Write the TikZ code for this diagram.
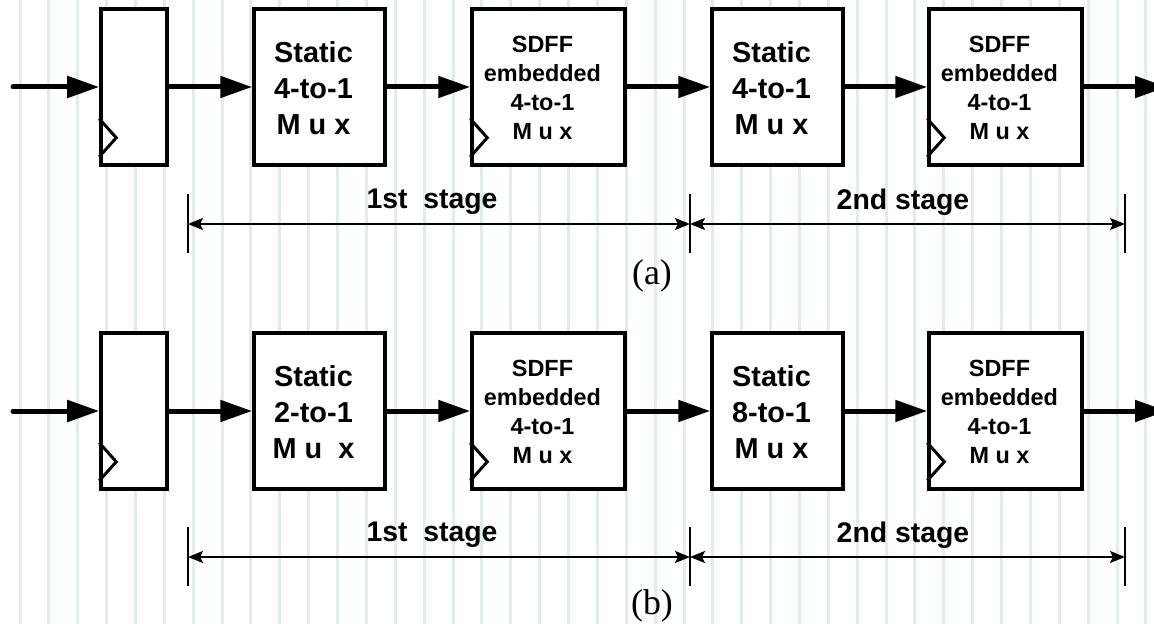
\documentclass[tikz,border=0pt]{standalone}
\usepackage{fontspec}
\setmainfont{Liberation Serif}
\setsansfont{Liberation Sans}
\usetikzlibrary{arrows.meta}
\definecolor{gridc}{RGB}{224,237,233}

\tikzset{
  gridline/.style={gridc, line width=3bp},
  block/.style={draw, fill=white, line width=3.5bp, inner sep=0pt,
                minimum height=156bp},
  ffbox/.style={block, minimum width=66bp},
  muxbox/.style={block, minimum width=131bp},
  sdffbox/.style={block, minimum width=153bp},
  clk/.style={line width=3bp, line join=miter},
  bus/.style={line width=5bp, line cap=round,
              -{Triangle[length=32bp,width=21bp]}},
  muxtext/.style={font=\sffamily\bfseries\fontsize{29}{36}\selectfont,
                  align=center, inner sep=0pt},
  sdfftext/.style={font=\sffamily\bfseries\fontsize{23.5}{29}\selectfont,
                   align=center, inner sep=0pt},
  dim/.style={line width=2bp,
              {Stealth[length=15bp,width=12bp,inset=3bp]}-{Stealth[length=15bp,width=12bp,inset=3bp]}},
  tick/.style={line width=2bp},
  stagetext/.style={font=\sffamily\bfseries\fontsize{28.5}{32}\selectfont,
                    inner sep=0pt},
  captext/.style={font=\fontsize{36}{40}\selectfont, inner sep=0pt}
}

\begin{document}
\begin{tikzpicture}[x=1bp, y=-1bp]
  \clip (0,0) rectangle (1154,624);
  \fill[white] (0,0) rectangle (1154,624);

  % ruled background
  \foreach \k in {0,...,39}
    \draw[gridline] ({20+28.87*\k},0) -- ++(0,624);

  % ---------------- (a) ----------------
  \node[ffbox]   (ffa)  at (134,87)    {};
  \node[muxbox]  (sma)  at (319.5,87)  {};
  \node[sdffbox] (dma)  at (548.5,87)  {};
  \node[muxbox]  (smb)  at (777.5,87)  {};
  \node[sdffbox] (dmb)  at (1005.5,87) {};

  \node[muxtext]  (tsma) at (313.5,88)  {Static\\4-to-1\\M u x};
  \node[sdfftext] (tdma) at (542.5,88)  {SDFF\\embedded\\4-to-1\\M u x};
  \node[muxtext]  (tsmb) at (771.5,88)  {Static\\4-to-1\\M u x};
  \node[sdfftext] (tdmb) at (999.5,88)  {SDFF\\embedded\\4-to-1\\M u x};

  \foreach \b in {ffa,dma,dmb}
    \draw[clk] (\b.south west) ++(0,-48) -- ++(17,19) -- ++(-17,19);

  \coordinate (ina)  at (13,87);
  \coordinate (outa) at (1167,87);
  \draw[bus] (ina)   -- (ffa.west);
  \draw[bus] (ffa.east) -- (sma.west);
  \draw[bus] (sma.east) -- (dma.west);
  \draw[bus] (dma.east) -- (smb.west);
  \draw[bus] (smb.east) -- (dmb.west);
  \draw[bus] (dmb.east) -- (outa);

  \coordinate (pa1) at (188,224);
  \coordinate (pa2) at (690,224);
  \coordinate (pa3) at (1125,224);
  \foreach \p in {pa1,pa2,pa3}
    \draw[tick] (\p) ++(0,-30) -- ++(0,59);
  \draw[dim] (pa1) -- (pa2);
  \draw[dim] (pa2) -- (pa3);
  \node[stagetext] (sta1) at (432,202) {1st\ \ stage};
  \node[stagetext] (sta2) at (903,202) {2nd stage};
  \node[captext]   (capa) at (652,276) {(a)};

  % ---------------- (b) ----------------
  \node[ffbox]   (ffb)  at (134,411)    {};
  \node[muxbox]  (smc)  at (319.5,411)  {};
  \node[sdffbox] (dmc)  at (548.5,411)  {};
  \node[muxbox]  (smd)  at (777.5,411)  {};
  \node[sdffbox] (dmd)  at (1005.5,411) {};

  \node[muxtext]  (tsmc) at (313.5,412)  {Static\\2-to-1\\M u\ \ x};
  \node[sdfftext] (tdmc) at (542.5,412)  {SDFF\\embedded\\4-to-1\\M u x};
  \node[muxtext]  (tsmd) at (771.5,412)  {Static\\8-to-1\\M u x};
  \node[sdfftext] (tdmd) at (999.5,412)  {SDFF\\embedded\\4-to-1\\M u x};

  \foreach \b in {ffb,dmc,dmd}
    \draw[clk] (\b.south west) ++(0,-48) -- ++(17,19) -- ++(-17,19);

  \coordinate (inb)  at (13,411);
  \coordinate (outb) at (1167,411);
  \draw[bus] (inb)   -- (ffb.west);
  \draw[bus] (ffb.east) -- (smc.west);
  \draw[bus] (smc.east) -- (dmc.west);
  \draw[bus] (dmc.east) -- (smd.west);
  \draw[bus] (smd.east) -- (dmd.west);
  \draw[bus] (dmd.east) -- (outb);

  \coordinate (pb1) at (188,557);
  \coordinate (pb2) at (690,557);
  \coordinate (pb3) at (1125,557);
  \foreach \p in {pb1,pb2,pb3}
    \draw[tick] (\p) ++(0,-30) -- ++(0,59);
  \draw[dim] (pb1) -- (pb2);
  \draw[dim] (pb2) -- (pb3);
  \node[stagetext] (stb1) at (432,535) {1st\ \ stage};
  \node[stagetext] (stb2) at (903,535) {2nd stage};
  \node[captext]   (capb) at (652,606) {(b)};
\end{tikzpicture}
\end{document}
